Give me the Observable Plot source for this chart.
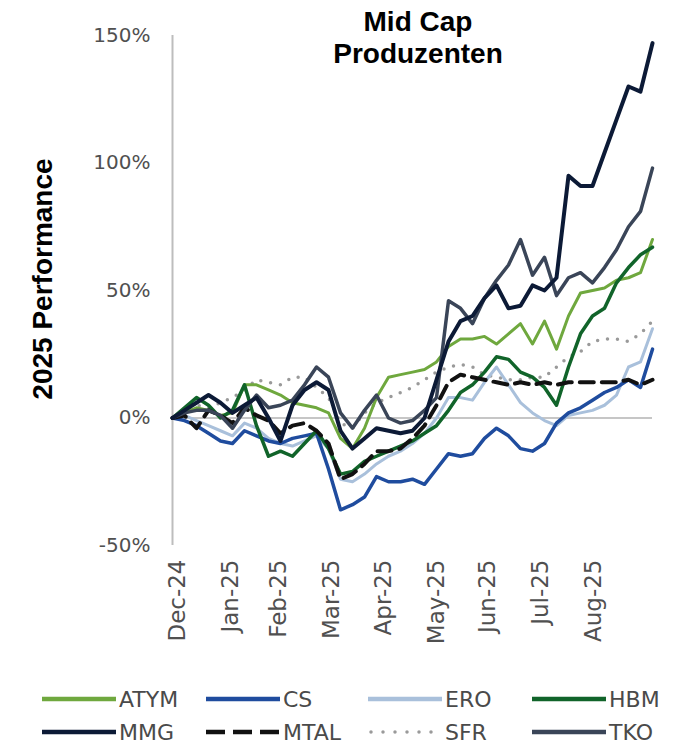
<!DOCTYPE html>
<html><head><meta charset="utf-8">
<script src="https://cdn.jsdelivr.net/npm/d3@7"></script>
<script src="https://cdn.jsdelivr.net/npm/@observablehq/plot@0.6"></script>
<style>
body{margin:0;background:#fff;}
#wrap{position:relative;width:684px;height:753px;overflow:hidden;font-family:"DejaVu Sans",sans-serif;background:#fff;}
#title{position:absolute;left:268px;width:300px;top:6px;text-align:center;font:bold 28px/32px "Liberation Sans",Arial,sans-serif;color:#000;z-index:2;}
#ylab{position:absolute;left:43px;top:279px;transform:translate(-50%,-50%) rotate(-90deg);font:bold 28px "Liberation Sans",Arial,sans-serif;white-space:nowrap;color:#000;}
#chart{position:absolute;left:0;top:0;}
#legend{position:absolute;left:0;top:0;width:684px;height:753px;pointer-events:none;}
.item{position:absolute;display:flex;align-items:center;font-size:22px;color:#4a4a4a;height:26px;}
.item svg{margin-right:2px;}
#chart g[aria-label="y-axis tick label"] text{font-size:20px;}
#chart g[aria-label="x-axis tick label"] text{font-size:23px;}
</style>
</head><body>
<div id="wrap">
  <div id="chart"></div>
  <div id="title">Mid Cap<br>Produzenten</div>
  <div id="ylab">2025 Performance</div>
  <div id="legend"></div>
</div>
<script>
const dates = ["2024-12-31","2025-01-07","2025-01-14","2025-01-21","2025-01-28","2025-02-04","2025-02-11","2025-02-18","2025-02-25","2025-03-04","2025-03-11","2025-03-18","2025-03-25","2025-04-01","2025-04-08","2025-04-15","2025-04-22","2025-04-29","2025-05-06","2025-05-13","2025-05-20","2025-05-27","2025-06-03","2025-06-10","2025-06-17","2025-06-24","2025-07-01","2025-07-08","2025-07-15","2025-07-22","2025-07-29","2025-08-05","2025-08-12","2025-08-19","2025-08-26","2025-09-02","2025-09-09","2025-09-16","2025-09-23","2025-09-30","2025-10-07"];

const ATYM = [0,2,4,3,1,2,13,13,11,9,6, 5,4,2,-8,-12,-4,8,16,17,18, 19,22,28,31,31,32,29,33,37,29, 38,27,40,49,50,51,54,55,57,70];
const CS   = [0,-1,-3,-6,-9,-10,-5,-7,-9,-10,-8, -7,-6,-20,-36,-34,-31,-23,-25,-25,-24, -26,-20,-14,-15,-14,-8,-4,-7,-12,-13, -10,-2,2,4,7,10,12,15,12,27];
const ERO  = [0,1,-1,-3,-5,-7,-2,-4,-8,-10,-11, -9,-7,-12,-24,-25,-22,-18,-15,-13,-10, -6,0,8,8,7,14,20,13,6,2, -1,-3,1,2,3,5,9,20,22,35];
const HBM  = [0,4,8,5,0,3,13,-3,-15,-13,-15, -10,-5,-12,-22,-21,-17,-15,-13,-11,-9, -6,-3,3,10,13,18,24,23,18,16, 12,5,20,33,40,43,53,59,64,67];
const MMG  = [0,3,6,9,6,2,5,8,0,-9,5, 11,14,11,-5,-12,-8,-4,-5,-6,-5, 0,15,30,38,40,47,52,43,44,52, 50,55,95,91,91,104,117,130,128,147];
const MTAL = [0,1,-4,3,1,-2,4,1,-1,-6,-3, -2,-5,-10,-24,-22,-18,-13,-13,-12,-8, -3,5,14,17,16,15,14,13,14,13, 14,13,14,14,14,14,14,15,13,15];
const SFR  = [0,3,5,4,6,8,11,15,14,13,16, 16,12,8,-2,-4,2,6,8,10,12, 15,18,20,21,20,17,16,15,15,16, 16,20,24,26,30,31,31,30,33,38];
const TKO  = [0,2,3,3,1,-4,3,9,4,5,7, 13,20,16,2,-4,3,9,0,-2,-1, 3,8,46,43,37,47,54,60,70,56, 63,48,55,57,53,59,66,75,81,98];

const yTicks = [-50,0,50,100,150];
const xTickDates = ["2024-12-31","2025-01-31","2025-02-28","2025-03-31","2025-04-30","2025-05-31","2025-06-30","2025-07-31","2025-08-31"];

const seriesNames = ["ATYM","CS","ERO","HBM","MMG","MTAL","SFR","TKO"];
const seriesValues = {ATYM, CS, ERO, HBM, MMG, MTAL, SFR, TKO};
const styles = {
  ATYM:{stroke:"#6fa83e", strokeWidth:3},
  CS:{stroke:"#1f4c9e", strokeWidth:3.5},
  ERO:{stroke:"#a9c0db", strokeWidth:3},
  HBM:{stroke:"#11642a", strokeWidth:3.5},
  MMG:{stroke:"#0c1a36", strokeWidth:4},
  MTAL:{stroke:"#111111", strokeWidth:4, strokeDasharray:"14 8"},
  SFR:{stroke:"#9a9a9a", strokeWidth:3.5, strokeDasharray:"0 10", strokeLinecap:"round"},
  TKO:{stroke:"#3a4558", strokeWidth:3.5}
};
const drawOrder = ["SFR","ERO","CS","ATYM","HBM","MTAL","TKO","MMG"];

const parse = d3.utcParse("%Y-%m-%d");
const xDates = dates.map(parse);

const lineMarks = drawOrder.map(name => {
  const data = seriesValues[name].map((v, i) => ({date: xDates[i], value: v}));
  return Plot.line(data, {x:"date", y:"value", strokeLinejoin:"round", ...styles[name]});
});

const chart = Plot.plot({
  width:684, height:665,
  marginLeft:172, marginRight:32, marginTop:35, marginBottom:120,
  style:{background:"transparent", color:"#505050", fontFamily:"DejaVu Sans, sans-serif"},
  x:{type:"utc", domain:[xDates[0], xDates[xDates.length-1]]},
  y:{domain:[-50,150]},
  marks:[
    Plot.ruleY([0], {stroke:"#b3b3b3", strokeWidth:1.5}),
    Plot.ruleX([xDates[0]], {stroke:"#bdbdbd", strokeWidth:2}),
    Plot.axisY({ticks:yTicks, tickFormat:d => d + "%", tickSize:0, tickPadding:22, label:null}),
    Plot.axisX({ticks:xTickDates.map(parse), tickFormat:d3.utcFormat("%b-%y"), tickSize:0, tickRotate:-90, tickPadding:14, dx:5, label:null}),
    ...lineMarks
  ]
});
document.getElementById("chart").appendChild(chart);

// legend
const legendCols = [41, 205, 367, 531];
const legendRows = [686, 719];
const legend = document.getElementById("legend");
seriesNames.forEach((name, i) => {
  const s = styles[name];
  const div = document.createElement("div");
  div.className = "item";
  div.style.left = legendCols[i % 4] + "px";
  div.style.top = legendRows[Math.floor(i / 4)] + "px";
  const dash = name === "MTAL" ? "19 8" : (name === "SFR" ? "0 12" : "none");
  const cap = name === "SFR" ? "round" : "butt";
  div.innerHTML = `<svg width="76" height="12"><line x1="${name==="SFR"?4:1}" y1="6" x2="75" y2="6" stroke="${s.stroke}" stroke-width="${name==="SFR"?3.5:4.5}" stroke-dasharray="${dash}" stroke-linecap="${cap}"/></svg><span>${name}</span>`;
  legend.appendChild(div);
});
</script>
</body></html>
